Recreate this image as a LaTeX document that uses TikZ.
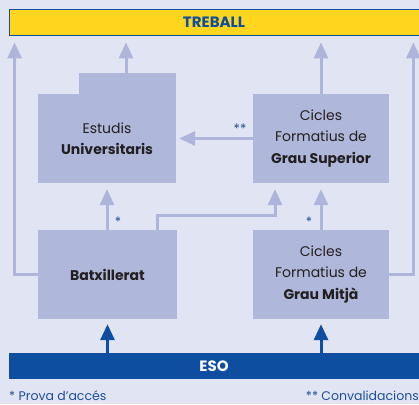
\documentclass[tikz,border=0pt]{standalone}
\usepackage{fontspec}
\setmainfont{Poppins}
\usetikzlibrary{arrows.meta}
\definecolor{bg}{HTML}{E1E4F2}
\definecolor{boxc}{HTML}{AFB7DB}
\definecolor{linec}{HTML}{AEB5DA}
\definecolor{yel}{HTML}{FFD51E}
\definecolor{dblue}{HTML}{0D4EA0}
\definecolor{txt}{HTML}{231F20}
\definecolor{note}{HTML}{1E4E9C}
\tikzset{
  boxn/.style={fill=boxc, draw=none, inner sep=0pt, align=center, text=txt,
    font=\fontsize{14}{21.5}\selectfont},
  bar/.style={inner sep=0pt, font=\bfseries\fontsize{15}{16}\selectfont},
  larr/.style={draw=linec, line width=3pt, -{Triangle[width=14pt,length=16pt]}},
  darr/.style={draw=dblue, line width=3pt, -{Triangle[width=14pt,length=16pt]}},
  star/.style={text=note, inner sep=0pt, font=\fontsize{13}{13}\selectfont},
  foot/.style={text=note, inner sep=0pt, font=\fontsize{12.5}{13}\selectfont},
}
\begin{document}
\begin{tikzpicture}[x=1pt,y=-1pt]
\fill[bg] (0,0) rectangle (419,404);
\useasboundingbox (0,0) rectangle (419,404);
\node[bar, fill=yel, draw=dblue, line width=0.8pt, text=dblue, minimum width=410pt, minimum height=26pt] (treball) at (214,22) {TREBALL};
\node[bar, fill=dblue, text=white, minimum width=410pt, minimum height=26pt] (eso) at (214,366) {ESO};
\node[boxn, minimum width=97pt, minimum height=22pt] (tab) at (127.5,84) {};
\node[boxn, minimum width=138pt, minimum height=89pt] (est) at (107,138.5) {Estudis\\\textbf{Universitaris}};
\node[boxn, minimum width=136pt, minimum height=89pt] (cfgs) at (321,138.5) {Cicles\\Formatius de\\\textbf{Grau Superior}};
\node[boxn, minimum width=139pt, minimum height=89pt] (batx) at (107.5,274.5) {\textbf{Batxillerat}};
\node[boxn, minimum width=136pt, minimum height=89pt] (cfgm) at (321,274.5) {Cicles\\Formatius de\\\textbf{Grau Mitjà}};
% arrows to TREBALL
\draw[larr, shorten >=7pt] (batx.west) -| ([xshift=6pt]treball.south west);
\draw[larr, shorten >=7pt] (cfgm.east) -| ([xshift=-6pt]treball.south east);
\draw[larr, shorten >=7pt] ([xshift=-1.5pt]tab.north) -- ([xshift=-1.5pt]tab.north |- treball.south);
\draw[larr, shorten >=7pt] (cfgs.north) -- (cfgs.north |- treball.south);
% internal arrows
\draw[larr, shorten >=3pt] (cfgs.west) -- (est.east);
\draw[larr, shorten >=6pt] (batx.north -| est.south) -- (est.south);
\draw[larr, shorten >=6pt] ([xshift=50pt]batx.north) -- ++(0,-14) -| ([xshift=-46pt]cfgs.south);
\draw[larr, shorten >=6pt] (cfgm.north) -- (cfgs.south);
% from ESO
\draw[darr, shorten >=5pt] (eso.north -| batx.south) -- (batx.south);
\draw[darr, shorten >=5pt] (eso.north -| cfgm.south) -- (cfgm.south);
% stars
\node[star] (s1) at (240,129) {**};
\node[star] (s2) at (118,222) {*};
\node[star] (s3) at (309,222) {*};
% footnotes
\node[foot, anchor=base west] (f1) at (9,400) {* Prova d’accés};
\node[foot, anchor=base east] (f2) at (419,400) {** Convalidacions};
\end{tikzpicture}
\end{document}
